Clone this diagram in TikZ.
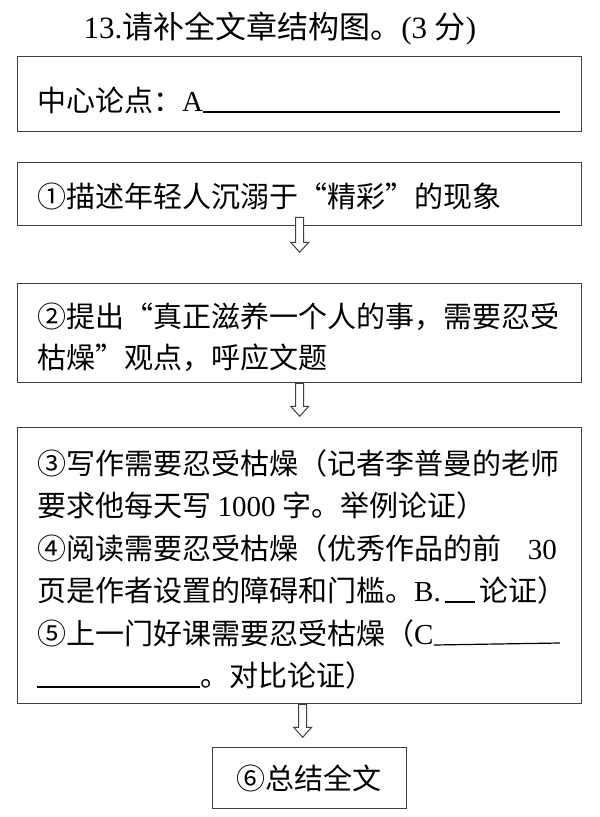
\documentclass[tikz,border=0pt]{standalone}
\usepackage{fontspec}
\setmainfont{Noto Sans CJK SC}
\newfontfamily\lat{Liberation Serif}
\begin{document}
\begin{tikzpicture}[x=1pt,y=-1pt,
  box/.style={draw=black!75,line width=1.3pt,anchor=north west,inner sep=0pt},
  txt/.style={anchor=base west,inner sep=0pt,font=\fontsize{29}{33}\selectfont},
  ctxt/.style={anchor=base,inner sep=0pt,font=\fontsize{29}{33}\selectfont},
  ul/.style={line width=1.2pt,black},
  harrow/.style={draw=black!75,line width=1pt,fill=white,line join=miter}]
\useasboundingbox (0,0) rectangle (600,817);
% title
\node[ctxt,font=\fontsize{31}{35}\selectfont] (title) at (280,38) {{\lat 13.}请补全文章结构图。{\lat (3 }分{\lat )}};
% boxes
\node[box,minimum width=564pt,minimum height=75pt] (b1) at (17,56) {};
\node[box,minimum width=564pt,minimum height=63pt] (b2) at (17,162) {};
\node[box,minimum width=564pt,minimum height=99pt] (b3) at (17,283) {};
\node[box,minimum width=564pt,minimum height=276pt] (b4) at (17,427) {};
\node[box,minimum width=194pt,minimum height=61pt] (b5) at (212,747) {};
% box 1
\node[txt] (t1) at (37,111) {中心论点：{\lat A}};
\draw[ul] ([yshift=-1pt]t1.base east) -- (560,112);
% box 2
\node[txt] (t2) at (37,207) {①描述年轻人沉溺于“精彩”的现象};
% box 3
\node[txt] (t3a) at (37,327) {②提出“真正滋养一个人的事，需要忍受};
\node[txt] (t3b) at (37,368) {枯燥”观点，呼应文题};
% box 4
\node[txt] (t4a) at (37,474) {③写作需要忍受枯燥（记者李普曼的老师};
\node[txt] (t4b) at (37,516) {要求他每天写 {\lat 1000} 字。举例论证）};
\node[txt] (t4c) at (37,559) {④阅读需要忍受枯燥（优秀作品的前};
\node[txt,anchor=base east] (t4c2) at (557,559) {\lat 30};
\node[txt] (t4d) at (37,601) {页是作者设置的障碍和门槛。{\lat B.}};
\coordinate (bgap) at ([xshift=34pt]t4d.base east);
\draw[ul] ([xshift=4pt,yshift=-1pt]t4d.base east) -- ([yshift=-1pt]bgap);
\node[txt] (t4d2) at ([xshift=4pt]bgap) {论证）};
\node[txt] (t4e) at (37,644) {⑤上一门好课需要忍受枯燥（{\lat C}};
\draw[ul] ([yshift=-1pt]t4e.base east) -- (560,643);
\coordinate (cstart) at (37,687);
\draw[ul] (cstart) -- (200,687);
\node[txt] (t4f) at (200,686) {。对比论证）};
% box 5
\node[ctxt] (t5) at (309,789) {⑥总结全文};
% hollow arrows
\draw[harrow] ([xshift=-4pt,yshift=9pt]b2.south) -- ++(0,25) -- ++(-5,0) -- ++(9,10) -- ++(9,-10) -- ++(-5,0) -- ++(0,-25) -- cycle;
\draw[harrow] ([xshift=-4pt]b3.south) -- ++(0,23) -- ++(-5,0) -- ++(9,10) -- ++(9,-10) -- ++(-5,0) -- ++(0,-23) -- cycle;
\draw[harrow] ([xshift=-1pt]b4.south) -- ++(0,23) -- ++(-5,0) -- ++(9,10) -- ++(9,-10) -- ++(-5,0) -- ++(0,-23) -- cycle;
\end{tikzpicture}
\end{document}
